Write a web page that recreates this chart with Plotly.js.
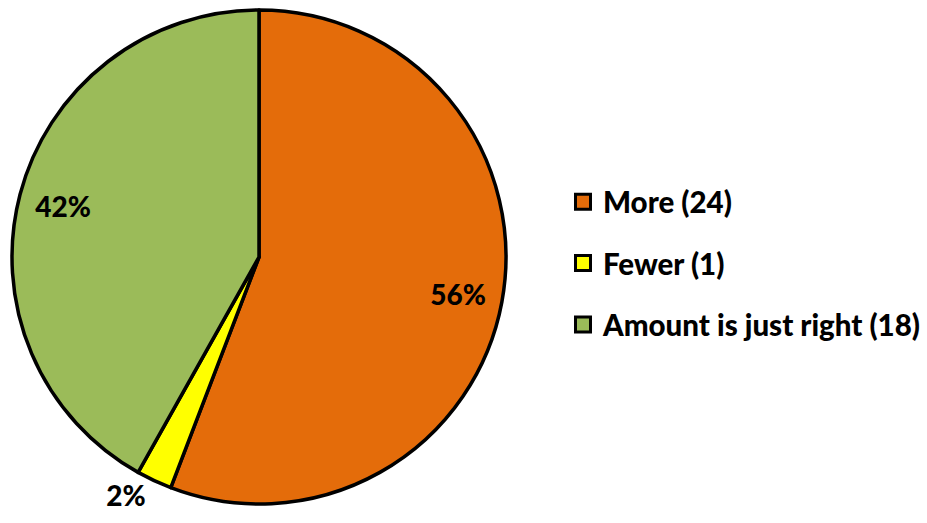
<!DOCTYPE html>
<html>
<head>
<meta charset="utf-8">
<script src="https://cdn.plot.ly/plotly-3.0.1.min.js"></script>
<style>html,body{margin:0;padding:0;background:#fff;}#chart{width:927px;height:523px;}</style>
</head>
<body>
<div id="chart"></div>
<script>
const categories = ["More (24)", "Fewer (1)", "Amount is just right (18)"];
const counts = [24, 1, 18];
const colors = ["#E46C0A", "#FFFF00", "#9BBB59"];
const labelPositions = ["inside", "outside", "inside"];

const W = 927, H = 523;
const FONT = "Lato, 'Open Sans', sans-serif";
const pieDomain = {x: [12 / W, 506 / W], y: [(H - 504) / H, (H - 10) / H]};

// The pie itself
const pie = {
  type: "pie",
  labels: categories,
  values: counts,
  sort: false,
  direction: "clockwise",
  rotation: 0,
  marker: {colors: colors, line: {color: "#000000", width: 3.5}},
  textinfo: "none",
  domain: pieDomain,
  showlegend: false
};

// Same data as a transparent ring, only to place the percentage labels further out
const pieLabels = {
  type: "pie",
  labels: categories,
  values: counts,
  sort: false,
  direction: "clockwise",
  rotation: 0,
  hole: 0.64,
  marker: {colors: colors.map(() => "rgba(0,0,0,0)"), line: {width: 0}},
  texttemplate: "%{percent:.0%}",
  textposition: labelPositions,
  insidetextorientation: "horizontal",
  textfont: {family: FONT, size: 28, color: "#000000", weight: 900},
  outsidetextfont: {family: FONT, size: 28, color: "#000000", weight: 900},
  domain: pieDomain,
  showlegend: false
};

// Legend entries, one per category
const legendTraces = categories.map((c, i) => ({
  type: "scatter",
  mode: "markers",
  x: [null], y: [null],
  name: c,
  legendgroup: "g" + i,
  marker: {symbol: "square", size: 15, color: colors[i], line: {color: "#000000", width: 3}},
  showlegend: true
}));

const layout = {
  width: W, height: H,
  margin: {l: 0, r: 0, t: 0, b: 0},
  paper_bgcolor: "#ffffff",
  plot_bgcolor: "rgba(0,0,0,0)",
  xaxis: {visible: false},
  yaxis: {visible: false},
  showlegend: true,
  legend: {
    x: 563 / W, y: (H - 176) / H, xanchor: "left", yanchor: "top",
    tracegroupgap: 20,
    itemwidth: 30,
    font: {family: FONT, size: 29.5, color: "#000000", weight: 900},
    itemclick: false
  }
};

Plotly.newPlot("chart", [pie, pieLabels, ...legendTraces], layout, {displayModeBar: false, staticPlot: true});
</script>
</body>
</html>
